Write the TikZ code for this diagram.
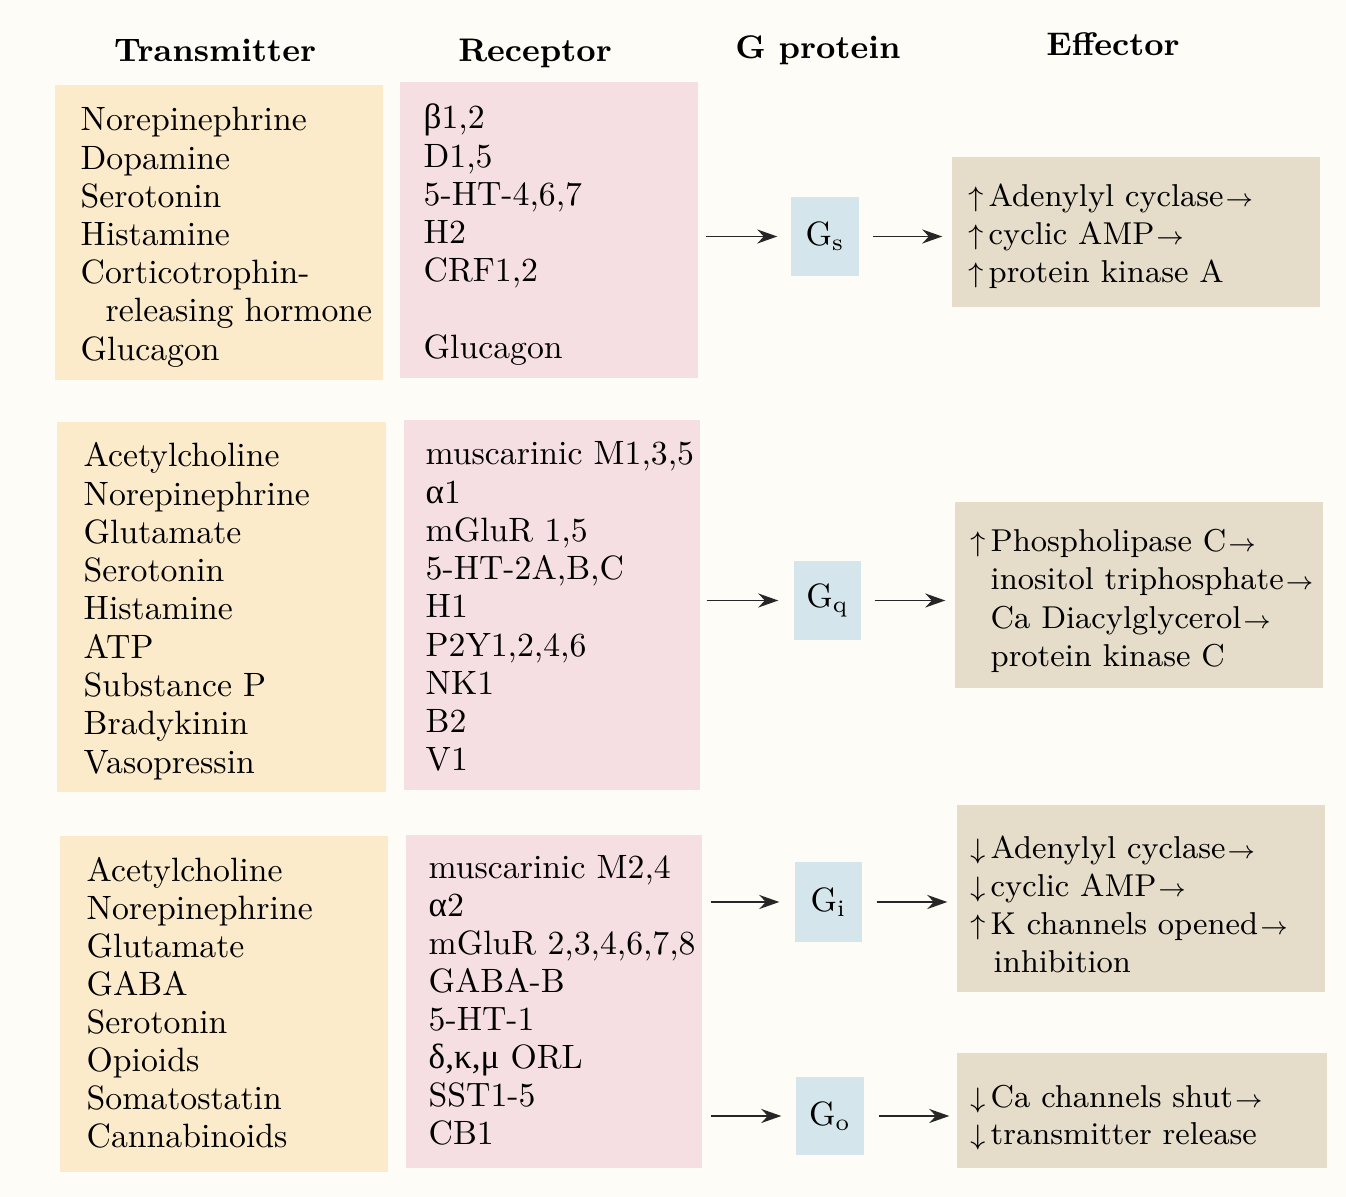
\documentclass[tikz,border=0pt]{standalone}
\usepackage{fontspec}
\newfontfamily\greekfont{Liberation Serif}
\usepackage{tikz}
\usetikzlibrary{arrows.meta}
\usetikzlibrary{fit}
\definecolor{paper}{RGB}{254,252,246}
\definecolor{transfill}{RGB}{252,235,202}
\definecolor{recfill}{RGB}{246,223,227}
\definecolor{gfill}{RGB}{212,230,236}
\definecolor{efffill}{RGB}{229,220,201}
\newcommand{\upa}{\llap{\footnotesize$\uparrow$\kern1.5pt}}
\newcommand{\dna}{\llap{\footnotesize$\downarrow$\kern1.5pt}}
\newcommand{\nxt}{\kern0.5pt{\scriptsize$\rightarrow$}}
\newcommand{\grk}[1]{{\greekfont\fontsize{10}{11}\selectfont #1}}
\tikzset{
  every node/.style={font=\fontsize{9.6}{11}\selectfont},
  panel/.style={inner sep=0pt, draw=none},
  txt/.style={anchor=base west, inner sep=0pt},
  efftxt/.style={txt, font=\fontsize{9}{11}\selectfont},
  head/.style={anchor=base, inner sep=0pt, font=\fontsize{9.3}{11}\selectfont\bfseries},
  gbox/.style={panel, fill=gfill},
  conn/.style={-{Stealth[length=2mm,width=1.4mm]}, line width=0.5pt, black!85}
}

\begin{document}
\begin{tikzpicture}[x=0.1mm,y=-0.1mm]
\useasboundingbox[fill=paper] (0,0) rectangle (1346,1197);
% column heads
\node[head] (hT) at (215,62) {Transmitter};
\node[head] (hR) at (535,62) {Receptor};
\node[head] (hG) at (818,59) {G protein};
\node[head] (hE) at (1113,56) {Effector};
% panels
\node[panel, fill=transfill, fit={(55,85) (383,380)}] (tr1) {};
\node[panel, fill=recfill, fit={(400,82) (698,378)}] (re1) {};
\node[panel, fill=transfill, fit={(57,422) (386,792)}] (tr2) {};
\node[panel, fill=recfill, fit={(404,420) (700,790)}] (re2) {};
\node[panel, fill=transfill, fit={(60,836) (388,1172)}] (tr3) {};
\node[panel, fill=recfill, fit={(406,835) (702,1168)}] (re3) {};
\node[panel, fill=efffill, fit={(952,157) (1320,307)}] (ef1) {};
\node[panel, fill=efffill, fit={(955,502) (1323,688)}] (ef2) {};
\node[panel, fill=efffill, fit={(957,805) (1325,992)}] (ef3) {};
\node[panel, fill=efffill, fit={(957,1053) (1327,1168)}] (ef4) {};
% G proteins
\node[gbox, fit={(791,197) (859,276)}] (gs) {};
\node at (gs) {G$_\mathrm{s}$};
\node[gbox, fit={(794,561) (861,640)}] (gq) {};
\node at (gq) {G$_\mathrm{q}$};
\node[gbox, fit={(795,862) (862,942)}] (gi) {};
\node at (gi) {G$_\mathrm{i}$};
\node[gbox, fit={(796,1077) (864,1155)}] (go) {};
\node at (go) {G$_\mathrm{o}$};
% transmitters
\foreach \t [count=\i] in {Norepinephrine, Dopamine, Serotonin, Histamine,
  Corticotrophin-, {\hspace*{2.5mm}releasing hormone}, Glucagon}
  \node[txt] (ta-\i) at (80,{131+38.2*(\i-1)}) {\t};
\foreach \t [count=\i] in {Acetylcholine, Norepinephrine, Glutamate, Serotonin,
  Histamine, ATP, Substance P, Bradykinin, Vasopressin}
  \node[txt] (tb-\i) at (83,{467+38.25*(\i-1)}) {\t};
\foreach \t [count=\i] in {Acetylcholine, Norepinephrine, Glutamate, GABA,
  Serotonin, Opioids, Somatostatin, Cannabinoids}
  \node[txt] (tc-\i) at (86,{881+38.1*(\i-1)}) {\t};
% receptors
\foreach \t [count=\i] in {{\grk{β}1,2}, {D1,5}, {5-HT-4,6,7}, H2, {CRF1,2}, {}, Glucagon}
  \node[txt] (ra-\i) at (423,{129+38.2*(\i-1)}) {\t};
\foreach \t [count=\i] in {{muscarinic M1,3,5}, {\grk{α}1}, {mGluR 1,5}, {5-HT-2A,B,C},
  H1, {P2Y1,2,4,6}, NK1, B2, V1}
  \node[txt] (rb-\i) at (425,{465+38.25*(\i-1)}) {\t};
\foreach \t [count=\i] in {{muscarinic M2,4}, {\grk{α}2}, {mGluR 2,3,4,6,7,8}, GABA-B,
  5-HT-1, {\grk{δ,κ,μ} ORL}, SST1-5, CB1}
  \node[txt] (rc-\i) at (428,{878+38.1*(\i-1)}) {\t};
% effectors
\foreach \t [count=\i] in {{\upa Adenylyl cyclase\nxt}, {\upa cyclic AMP\nxt},
  {\upa protein kinase A}}
  \node[efftxt] (ea-\i) at (988,{207+38*(\i-1)}) {\t};
\foreach \t [count=\i] in {{\upa Phospholipase C\nxt}, {inositol triphosphate\nxt},
  {Ca Diacylglycerol\nxt}, {protein kinase C}}
  \node[efftxt] (eb-\i) at (990,{552+38*(\i-1)}) {\t};
\foreach \t [count=\i] in {{\dna Adenylyl cyclase\nxt}, {\dna cyclic AMP\nxt},
  {\upa K channels opened\nxt}, {\hspace*{0.3mm}inhibition}}
  \node[efftxt] (ec-\i) at (990,{858+38.3*(\i-1)}) {\t};
\foreach \t [count=\i] in {{\dna Ca channels shut\nxt}, {\dna transmitter release}}
  \node[efftxt] (ed-\i) at (990,{1107+37.5*(\i-1)}) {\t};
% connectors
\draw[conn, shorten <=0.7mm, shorten >=1.3mm] (re1.east |- gs) -- (gs.west);
\draw[conn, shorten <=1.3mm, shorten >=0.9mm] (gs.east) -- (gs.east -| ef1.west);
\draw[conn, shorten <=0.6mm, shorten >=1.5mm] (re2.east |- gq) -- (gq.west);
\draw[conn, shorten <=1.3mm, shorten >=0.9mm] (gq.east) -- (gq.east -| ef2.west);
\draw[conn, shorten <=0.8mm, shorten >=1.5mm] (re3.east |- gi) -- (gi.west);
\draw[conn, shorten <=1.4mm, shorten >=0.9mm] (gi.east) -- (gi.east -| ef3.west);
\draw[conn, shorten <=0.8mm, shorten >=1.4mm] (re3.east |- go) -- (go.west);
\draw[conn, shorten <=1.4mm, shorten >=0.7mm] (go.east) -- (go.east -| ef4.west);
\end{tikzpicture}
\end{document}
